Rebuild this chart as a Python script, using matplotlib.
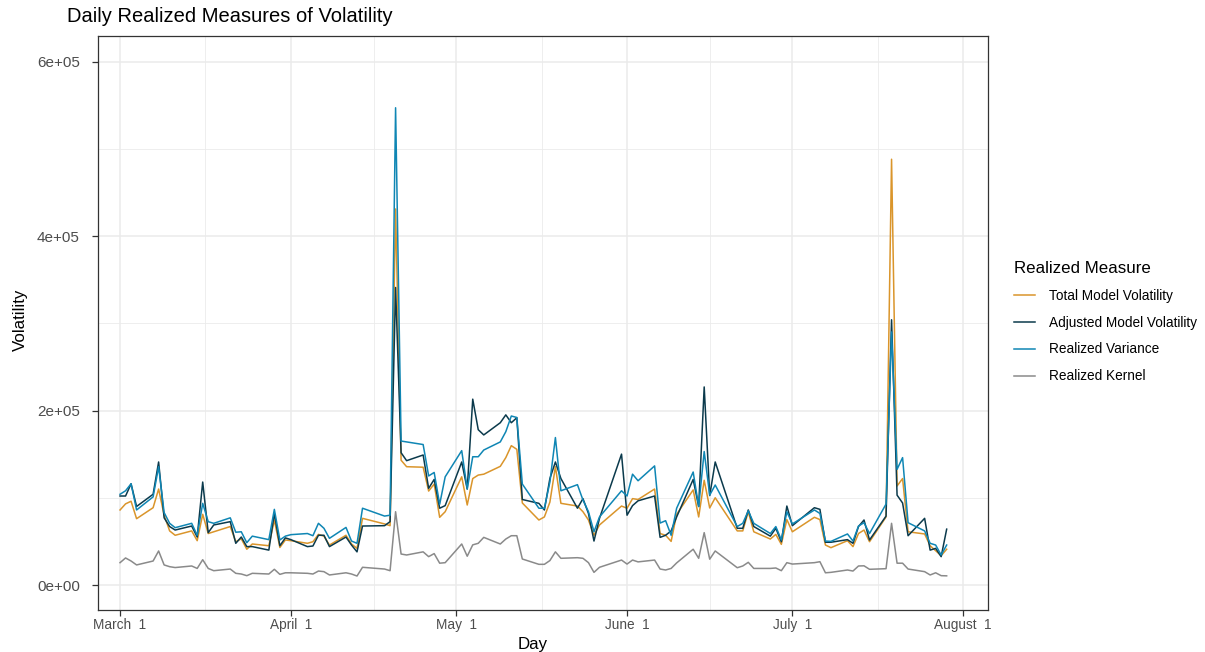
import numpy as np
import pandas as pd
import matplotlib
matplotlib.use("Agg")
import matplotlib.pyplot as plt
from matplotlib.ticker import FixedLocator, FuncFormatter

plt.rcParams["font.family"] = ["Liberation Sans", "DejaVu Sans"]

# trading days, US market 2022 (holidays dropped)
HOLIDAYS = ["2022-04-15", "2022-05-30", "2022-06-20", "2022-07-04"]
days = pd.bdate_range("2022-03-01", "2022-07-29")
days = days[~days.isin(pd.to_datetime(HOLIDAYS))]

# daily values, in thousands
total_vol = [
    86, 93, 96, 76, 88.6, 110, 80, 62, 57, 62, 50.8, 81, 59, 61, 67, 49.6, 53, 41, 47, 45, 74.5, 43, 51.6,
    50.8, 47.8, 49.6, 58, 56, 45.8, 57, 47, 42, 76.4, 70, 68, 431, 143, 135.6, 135, 107.7, 115.7, 77.6, 84,
    124, 91.7, 122, 126, 127, 136, 146, 159.7, 155.5, 94, 74.5, 78, 95, 135.6, 93.6, 90.5, 84, 74.5, 57, 68.8, 90.5,
    88, 99, 98, 110, 59, 57, 50, 81, 109, 78, 120, 88.3, 100, 62, 62, 84, 61, 52.7, 58, 46.6, 75,
    61, 77.6, 75, 45.8, 42.8, 50.8, 44, 59, 63, 49.6, 78, 488, 113.5, 122, 61, 58.5, 45, 39.3, 33.6, 41,
]
adjusted_vol = [
    102, 102, 116, 90, 104, 141, 77, 67, 63, 67.6, 55, 118, 60, 68.8, 72.6, 47.8, 55, 44, 44, 40, 82, 45, 54,
    52, 44, 44.7, 57, 57, 44, 55, 45.8, 38, 67.6, 68, 72.6, 341, 151.6, 142.5, 149, 110.8, 121, 88, 91,
    141, 110, 213, 178, 172, 186, 195, 186, 191.7, 98, 93.6, 86, 122, 141, 122, 88, 99, 82, 50.4, 76.4, 150,
    80, 91, 96.5, 102, 54.6, 57, 62, 78, 121, 90, 227, 102.5, 141, 65, 65, 86, 67, 56, 65, 49.6, 90.5,
    68, 88.6, 86.7, 49, 49, 52, 47.8, 67, 74.5, 51.6, 79, 304, 103, 94, 56.5, 76.4, 40, 42, 32.5, 64,
]
realized_var = [
    104, 108, 116, 86, 101, 135.6, 83, 70.7, 65.7, 70.7, 57, 93.6, 72.6, 70.7, 77, 60.5, 61, 48.5, 56, 52, 86.7, 51.6, 56,
    57.7, 59, 56.5, 70.7, 65, 53.5, 66, 50.4, 47.8, 88, 79, 80, 547, 165, 164, 161, 125, 129, 92.5, 124,
    154, 110, 147, 147, 154.7, 164, 175.7, 193.7, 192, 115.7, 88, 88, 118, 169, 108, 115, 97.4, 84, 61, 78, 108,
    102, 127, 119.5, 136.5, 71, 73.7, 57, 88, 129.5, 90, 153, 103, 114.6, 67, 70.7, 85, 70.7, 59, 67, 51.6, 84,
    70, 86, 82, 50.4, 50, 58.5, 50.4, 67.6, 71.4, 59, 92.8, 290, 132.6, 146, 71.4, 62, 47.8, 45.8, 34.4, 45.8,
]
realized_kernel = [
    25.6, 31, 27.5, 23, 27.5, 39, 23, 21, 20, 21.8, 19, 29, 19, 16.4, 18.3, 13.4, 12.6, 10.7, 13.4, 12.6, 18, 12.2, 14,
    14, 13.4, 12.6, 16, 15.3, 11.5, 14, 12.6, 10.3, 20.3, 18.3, 16.4, 84, 35.5, 34.4, 38, 32.5, 36, 25, 25.6,
    47, 33, 46, 47.8, 54.6, 47, 52.7, 56.5, 56.5, 29.8, 23.7, 23.7, 28, 38, 30.6, 31.3, 30.6, 25.6, 14.5, 20.3, 28.6,
    24, 28.6, 26.5, 28.6, 18.3, 17.2, 19, 25.3, 41, 30.6, 60, 29.6, 39, 19.8, 21.8, 26, 19, 19, 19.5, 16.4, 25.6,
    24, 25.6, 26.7, 14, 14.5, 17.2, 16, 21.8, 22, 18, 18.7, 70.7, 25, 25, 18.3, 15.3, 11.5, 14, 10.7, 10.5,
]

SERIES = ["Total Model Volatility", "Adjusted Model Volatility", "Realized Variance", "Realized Kernel"]
COLORS = ["#DA952B", "#0B3A4C", "#0F86B4", "#8A8A8A"]
values = [total_vol, adjusted_vol, realized_var, realized_kernel]

MONTH_TICKS = pd.to_datetime(["2022-03-01", "2022-04-01", "2022-05-01", "2022-06-01", "2022-07-01", "2022-08-01"])
MONTH_LABELS = ["March  1", "April  1", "May  1", "June  1", "July  1", "August  1"]
Y_TICKS = [0, 2e5, 4e5, 6e5]

fig = plt.figure(figsize=(12.05, 6.52), dpi=100)
ax = fig.add_axes([98 / 1205, 1 - 610 / 652, 890 / 1205, 574 / 652])

for name, col, v in zip(SERIES, COLORS, values):
    ax.plot(days, np.array(v) * 1000, color=col, lw=1.1, label=name, zorder=3)

# limits as in the picture
ax.set_xlim(pd.Timestamp("2022-02-25"), pd.Timestamp("2022-08-05 12:00"))
ax.set_ylim(-28650, 629250)

mt = matplotlib.dates.date2num(MONTH_TICKS)
ax.xaxis.set_major_locator(FixedLocator(mt))
ax.xaxis.set_major_formatter(FuncFormatter(lambda x, p: MONTH_LABELS[p] if p is not None and p < len(MONTH_LABELS) else ""))
ax.xaxis.set_minor_locator(FixedLocator((mt[:-1] + mt[1:]) / 2))
ax.yaxis.set_major_locator(FixedLocator(Y_TICKS))
ax.yaxis.set_minor_locator(FixedLocator([1e5, 3e5, 5e5]))
ax.yaxis.set_major_formatter(FuncFormatter(lambda v, p: f"{v:.0e}"))

ax.grid(which="major", color="#EBEBEB", lw=1.1, zorder=0)
ax.grid(which="minor", color="#EBEBEB", lw=0.6, zorder=0)
ax.set_axisbelow(True)
for s in ax.spines.values():
    s.set_color("#333333")
    s.set_linewidth(0.9)
ax.tick_params(which="major", length=4, width=0.9, color="#333333", labelcolor="#4D4D4D", labelsize=9.8, pad=2)
ax.tick_params(axis="y", which="major", labelsize=11, pad=9)
ax.tick_params(which="minor", length=0)

ax.set_xlabel("Day", fontsize=12.2)
ax.xaxis.set_label_coords((533 - 98) / 890, -0.047)
ax.set_ylabel("Volatility", fontsize=12.2)
ax.yaxis.set_label_coords((28 - 98) / 890, (610 - 320) / 574)
fig.text(67 / 1205, 1 - 17 / 652, "Daily Realized Measures of Volatility", fontsize=14.5, va="center", ha="left")

leg = fig.legend(loc="center left", bbox_to_anchor=(1002 / 1205, 1 - 322 / 652), bbox_transform=fig.transFigure,
                 frameon=False, fontsize=9.8, title="Realized Measure", title_fontsize=12.2,
                 handlelength=1.5, handletextpad=1.05, labelspacing=0.95, alignment="left")

fig.savefig("out.png", dpi=100)
